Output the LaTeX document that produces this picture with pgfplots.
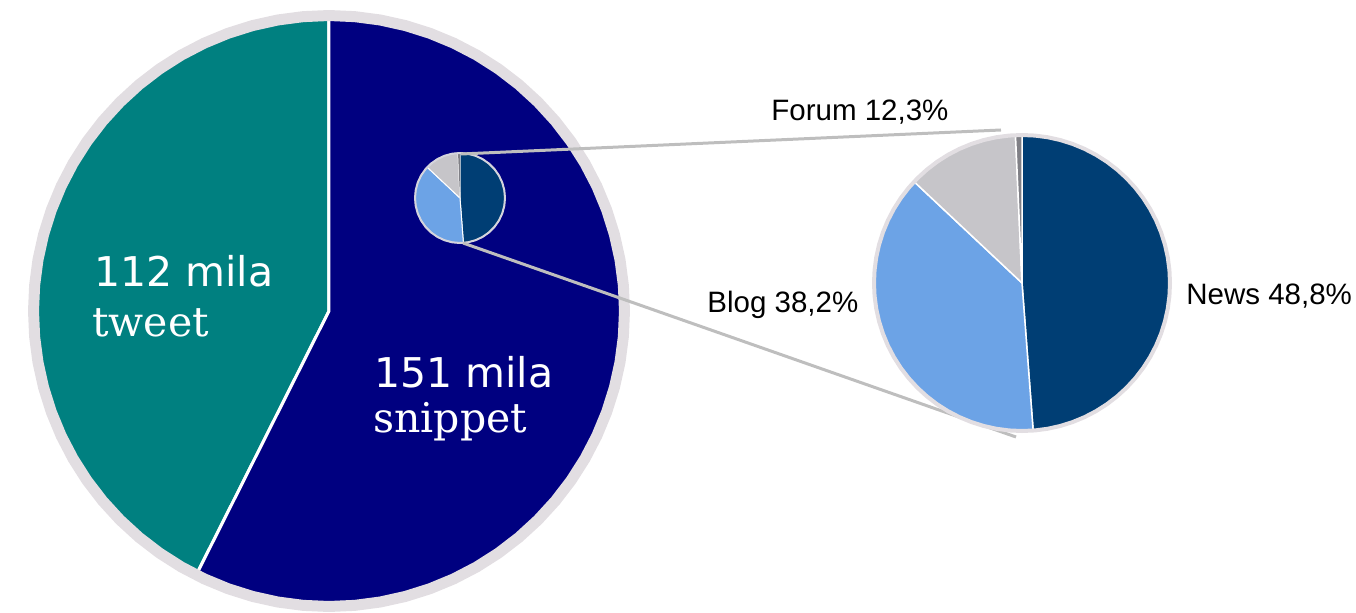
\documentclass[border=0pt]{standalone}
\usepackage{pgfplots}
\pgfplotsset{compat=1.18}
\usepgfplotslibrary{polar}
\usepackage{fontspec}
\newfontfamily\lsans{Liberation Sans}
\newfontfamily\dsans{DejaVu Sans}
\newfontfamily\dserif{DejaVu Serif}
\definecolor{tealc}{RGB}{0,128,128}
\definecolor{navyc}{RGB}{0,0,128}
\definecolor{newsc}{RGB}{0,62,116}
\definecolor{blogc}{RGB}{108,163,230}
\definecolor{forumc}{RGB}{198,197,201}
\definecolor{otherc}{RGB}{128,128,134}
\definecolor{ringc}{RGB}{226,222,226}
\definecolor{connc}{RGB}{190,190,190}
\definecolor{smallring}{RGB}{212,212,220}
\pgfplotsset{pie/.style={hide axis, scale only axis, xmin=0, xmax=360, ymin=0, ymax=1, clip=false, anchor=center}}
\begin{document}
\begin{tikzpicture}
% ---------------- big pie: 112 mila tweet, 151 mila snippet ----------------
\begin{polaraxis}[pie, at={(164.5pt,150.5pt)}, width=301pt, height=301pt]
\addplot[fill=tealc, draw=white, line width=1.5pt, line join=round] coordinates {
(0,0) (90,0.985) (95,0.985) (100,0.985) (105,0.985) (110,0.985) (115,0.985) (120,0.985) (125,0.985) (130,0.985) (135,0.985) (140,0.985) (145,0.985) (150,0.985) (155,0.985) (160,0.985) (165,0.985) (170,0.985) (175,0.985) (180,0.985) (185,0.985) (190,0.985) (195,0.985) (200,0.985) (205,0.985) (210,0.985) (215,0.985) (220,0.985) (225,0.985) (230,0.985) (235,0.985) (240,0.985) (243.3,0.985)} -- cycle;
\addplot[fill=navyc, draw=white, line width=1.5pt, line join=round] coordinates {
(0,0) (243.3,0.985) (245,0.985) (250,0.985) (255,0.985) (260,0.985) (265,0.985) (270,0.985) (275,0.985) (280,0.985) (285,0.985) (290,0.985) (295,0.985) (300,0.985) (305,0.985) (310,0.985) (315,0.985) (320,0.985) (325,0.985) (330,0.985) (335,0.985) (340,0.985) (345,0.985) (350,0.985) (355,0.985) (360,0.985) (5,0.985) (10,0.985) (15,0.985) (20,0.985) (25,0.985) (30,0.985) (35,0.985) (40,0.985) (45,0.985) (50,0.985) (55,0.985) (60,0.985) (65,0.985) (70,0.985) (75,0.985) (80,0.985) (85,0.985) (90,0.985)} -- cycle;
\addplot[draw=ringc, line width=5.5pt] coordinates {
(0,0.9817) (5,0.9817) (10,0.9817) (15,0.9817) (20,0.9817) (25,0.9817) (30,0.9817) (35,0.9817) (40,0.9817) (45,0.9817) (50,0.9817) (55,0.9817) (60,0.9817) (65,0.9817) (70,0.9817) (75,0.9817) (80,0.9817) (85,0.9817) (90,0.9817) (95,0.9817) (100,0.9817) (105,0.9817) (110,0.9817) (115,0.9817) (120,0.9817) (125,0.9817) (130,0.9817) (135,0.9817) (140,0.9817) (145,0.9817) (150,0.9817) (155,0.9817) (160,0.9817) (165,0.9817) (170,0.9817) (175,0.9817) (180,0.9817) (185,0.9817) (190,0.9817) (195,0.9817) (200,0.9817) (205,0.9817) (210,0.9817) (215,0.9817) (220,0.9817) (225,0.9817) (230,0.9817) (235,0.9817) (240,0.9817) (245,0.9817) (250,0.9817) (255,0.9817) (260,0.9817) (265,0.9817) (270,0.9817) (275,0.9817) (280,0.9817) (285,0.9817) (290,0.9817) (295,0.9817) (300,0.9817) (305,0.9817) (310,0.9817) (315,0.9817) (320,0.9817) (325,0.9817) (330,0.9817) (335,0.9817) (340,0.9817) (345,0.9817) (350,0.9817) (355,0.9817)} -- cycle;
\end{polaraxis}
% ---------------- small pie inside the snippet slice ----------------
\begin{polaraxis}[pie, at={(230pt,207pt)}, width=46pt, height=46pt]
\addplot[fill=newsc, draw=white, line width=0.5pt, line join=round] coordinates {
(0,0) (274.32,0.978) (280,0.978) (290,0.978) (300,0.978) (310,0.978) (320,0.978) (330,0.978) (340,0.978) (350,0.978) (360,0.978) (10,0.978) (20,0.978) (30,0.978) (40,0.978) (50,0.978) (60,0.978) (70,0.978) (80,0.978) (90,0.978)} -- cycle;
\addplot[fill=blogc, draw=white, line width=0.5pt, line join=round] coordinates {
(0,0) (136.8,0.978) (140,0.978) (150,0.978) (160,0.978) (170,0.978) (180,0.978) (190,0.978) (200,0.978) (210,0.978) (220,0.978) (230,0.978) (240,0.978) (250,0.978) (260,0.978) (270,0.978) (274.32,0.978)} -- cycle;
\addplot[fill=forumc, draw=white, line width=0.5pt, line join=round] coordinates {
(0,0) (92.52,0.978) (100,0.978) (110,0.978) (120,0.978) (130,0.978) (136.8,0.978)} -- cycle;
\addplot[fill=otherc, draw=none] coordinates {(0,0) (90,0.978) (92.52,0.978)} -- cycle;
\addplot[draw=smallring, line width=1pt] coordinates {
(0,0.978) (10,0.978) (20,0.978) (30,0.978) (40,0.978) (50,0.978) (60,0.978) (70,0.978) (80,0.978) (90,0.978) (100,0.978) (110,0.978) (120,0.978) (130,0.978) (140,0.978) (150,0.978) (160,0.978) (170,0.978) (180,0.978) (190,0.978) (200,0.978) (210,0.978) (220,0.978) (230,0.978) (240,0.978) (250,0.978) (260,0.978) (270,0.978) (280,0.978) (290,0.978) (300,0.978) (310,0.978) (320,0.978) (330,0.978) (340,0.978) (350,0.978)} -- cycle;
\end{polaraxis}
% ---------------- frame axis: connectors and labels ----------------
\begin{axis}[at={(0pt,0pt)}, anchor=south west, scale only axis, width=678pt, height=306pt,
  xmin=0, xmax=1356, ymin=0, ymax=612, hide axis, clip=false]
\addplot[draw=connc, line width=1.5pt] coordinates {(461,458) (1001,482)};
\addplot[draw=connc, line width=1.5pt] coordinates {(463,369) (1016,175)};
\node[anchor=base west, inner sep=0pt, text=white, font=\dsans\fontsize{20.5pt}{20.5pt}\selectfont] at (axis cs:94,325) {112 mila};
\node[anchor=base west, inner sep=0pt, text=white, font=\dserif\fontsize{20.5pt}{20.5pt}\selectfont] at (axis cs:92,275) {tweet};
\node[anchor=base west, inner sep=0pt, text=white, font=\dsans\fontsize{20.5pt}{20.5pt}\selectfont] at (axis cs:374,224) {151 mila};
\node[anchor=base west, inner sep=0pt, text=white, font=\dserif\fontsize{20.5pt}{20.5pt}\selectfont] at (axis cs:373,179) {snippet};
\node[anchor=base west, inner sep=0pt, text=black, font=\lsans\fontsize{14.75pt}{14.75pt}\selectfont] at (axis cs:771,491) {Forum 12,3\%};
\node[anchor=base west, inner sep=0pt, text=black, font=\lsans\fontsize{14.75pt}{14.75pt}\selectfont] at (axis cs:707,299) {Blog 38,2\%};
\node[anchor=base west, inner sep=0pt, text=black, font=\lsans\fontsize{14.75pt}{14.75pt}\selectfont] at (axis cs:1186,307) {News 48,8\%};
\end{axis}
% ---------------- zoomed pie: News / Blog / Forum ----------------
\begin{polaraxis}[pie, at={(511pt,164.5pt)}, width=150pt, height=150pt]
\addplot[fill=newsc, draw=white, line width=0.75pt, line join=round] coordinates {
(0,0) (274.32,0.9867) (275,0.9867) (280,0.9867) (285,0.9867) (290,0.9867) (295,0.9867) (300,0.9867) (305,0.9867) (310,0.9867) (315,0.9867) (320,0.9867) (325,0.9867) (330,0.9867) (335,0.9867) (340,0.9867) (345,0.9867) (350,0.9867) (355,0.9867) (360,0.9867) (5,0.9867) (10,0.9867) (15,0.9867) (20,0.9867) (25,0.9867) (30,0.9867) (35,0.9867) (40,0.9867) (45,0.9867) (50,0.9867) (55,0.9867) (60,0.9867) (65,0.9867) (70,0.9867) (75,0.9867) (80,0.9867) (85,0.9867) (90,0.9867)} -- cycle;
\addplot[fill=blogc, draw=white, line width=0.75pt, line join=round] coordinates {
(0,0) (136.8,0.9867) (140,0.9867) (145,0.9867) (150,0.9867) (155,0.9867) (160,0.9867) (165,0.9867) (170,0.9867) (175,0.9867) (180,0.9867) (185,0.9867) (190,0.9867) (195,0.9867) (200,0.9867) (205,0.9867) (210,0.9867) (215,0.9867) (220,0.9867) (225,0.9867) (230,0.9867) (235,0.9867) (240,0.9867) (245,0.9867) (250,0.9867) (255,0.9867) (260,0.9867) (265,0.9867) (270,0.9867) (274.32,0.9867)} -- cycle;
\addplot[fill=forumc, draw=white, line width=0.75pt, line join=round] coordinates {
(0,0) (92.52,0.9867) (95,0.9867) (100,0.9867) (105,0.9867) (110,0.9867) (115,0.9867) (120,0.9867) (125,0.9867) (130,0.9867) (135,0.9867) (136.8,0.9867)} -- cycle;
\addplot[fill=otherc, draw=white, line width=0.75pt, line join=round] coordinates {(0,0) (90,0.9867) (92.52,0.9867)} -- cycle;
\addplot[draw=ringc, line width=2pt] coordinates {
(0,0.9867) (5,0.9867) (10,0.9867) (15,0.9867) (20,0.9867) (25,0.9867) (30,0.9867) (35,0.9867) (40,0.9867) (45,0.9867) (50,0.9867) (55,0.9867) (60,0.9867) (65,0.9867) (70,0.9867) (75,0.9867) (80,0.9867) (85,0.9867) (90,0.9867) (95,0.9867) (100,0.9867) (105,0.9867) (110,0.9867) (115,0.9867) (120,0.9867) (125,0.9867) (130,0.9867) (135,0.9867) (140,0.9867) (145,0.9867) (150,0.9867) (155,0.9867) (160,0.9867) (165,0.9867) (170,0.9867) (175,0.9867) (180,0.9867) (185,0.9867) (190,0.9867) (195,0.9867) (200,0.9867) (205,0.9867) (210,0.9867) (215,0.9867) (220,0.9867) (225,0.9867) (230,0.9867) (235,0.9867) (240,0.9867) (245,0.9867) (250,0.9867) (255,0.9867) (260,0.9867) (265,0.9867) (270,0.9867) (275,0.9867) (280,0.9867) (285,0.9867) (290,0.9867) (295,0.9867) (300,0.9867) (305,0.9867) (310,0.9867) (315,0.9867) (320,0.9867) (325,0.9867) (330,0.9867) (335,0.9867) (340,0.9867) (345,0.9867) (350,0.9867) (355,0.9867)} -- cycle;
\end{polaraxis}
\pgfresetboundingbox
\useasboundingbox (0pt,0pt) rectangle (678pt,306pt);
\end{tikzpicture}
\end{document}
